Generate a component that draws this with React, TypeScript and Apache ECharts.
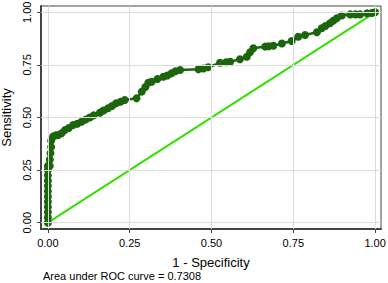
import React, { useEffect, useRef } from "react";
import * as echarts from "echarts";

const tickValues = [0, 0.25, 0.5, 0.75, 1];
const rocX = [
  0, 0, 0, 0, 0, 0, 0, 0, 0, 0, 0, 0,
  0.006, 0.006, 0.008, 0.01, 0.01, 0.016, 0.024, 0.032, 0.042, 0.052, 0.064, 0.077,
  0.09, 0.103, 0.115, 0.128, 0.14, 0.159, 0.17, 0.184, 0.196, 0.208, 0.222, 0.235,
  0.271, 0.287, 0.298, 0.307, 0.317, 0.335, 0.353, 0.365, 0.378, 0.39, 0.404,
  0.46, 0.475, 0.49, 0.526, 0.545, 0.557, 0.587, 0.608, 0.618, 0.628, 0.664, 0.675,
  0.689, 0.715, 0.745, 0.765, 0.786, 0.822, 0.837, 0.848, 0.862, 0.872, 0.883,
  0.898, 0.924, 0.94, 0.954, 0.975, 0.99, 1.0,
];
const rocY = [
  0, 0.025, 0.05, 0.075, 0.1, 0.125, 0.15, 0.175, 0.2, 0.225, 0.25, 0.27,
  0.27, 0.3, 0.33, 0.36, 0.39, 0.41, 0.415, 0.417, 0.425, 0.44, 0.45, 0.464,
  0.47, 0.48, 0.49, 0.5, 0.51, 0.523, 0.533, 0.544, 0.555, 0.567, 0.575, 0.583,
  0.591, 0.623, 0.645, 0.665, 0.67, 0.683, 0.694, 0.7, 0.71, 0.72, 0.726,
  0.729, 0.733, 0.739, 0.76, 0.763, 0.765, 0.777, 0.789, 0.81, 0.829, 0.837, 0.839,
  0.841, 0.852, 0.864, 0.884, 0.892, 0.905, 0.924, 0.935, 0.948, 0.96, 0.972,
  0.985, 0.99, 0.99, 0.99, 0.995, 0.997, 1.0,
];
const refX = [0, 1];
const refY = [0, 1];
const aucText = "Area under ROC curve = 0.7308";

export default function App() {
  const ref = useRef<HTMLDivElement>(null);
  useEffect(() => {
    if (!ref.current) return;
    const chart = echarts.init(ref.current, null, { renderer: "svg" });
    const font = "Liberation Sans, Arial, sans-serif";
    const gridLines = [
      ...tickValues.map((v) => ({ xAxis: v })),
      ...tickValues.map((v) => ({ yAxis: v })),
    ];
    chart.setOption({
      animation: false,
      backgroundColor: "#ffffff",
      grid: {
        left: 41,
        right: 7,
        top: 6,
        bottom: 54,
        containLabel: false,
        outerBoundsMode: "none",
        show: true,
        borderColor: "#444",
        borderWidth: 1,
        backgroundColor: "#ffffff",
      },
      xAxis: {
        type: "value",
        min: -0.021,
        max: 1.018,
        name: "1 - Specificity",
        nameLocation: "middle",
        nameGap: 27,
        nameTextStyle: { fontFamily: font, fontSize: 13, color: "#000" },
        axisLine: { show: true, onZero: false, lineStyle: { color: "#444", width: 2 } },
        axisTick: { show: true, length: 4, customValues: tickValues, lineStyle: { color: "#444" } },
        axisLabel: {
          customValues: tickValues,
          formatter: (v: number) => v.toFixed(2),
          fontFamily: font,
          fontSize: 11,
          color: "#000",
          margin: 8,
        },
        splitLine: { show: false },
      },
      yAxis: {
        type: "value",
        min: -0.03,
        max: 1.03,
        name: "Sensitivity",
        nameLocation: "middle",
        nameGap: 26,
        nameTextStyle: { fontFamily: font, fontSize: 13, color: "#000" },
        axisLine: { show: true, onZero: false, lineStyle: { color: "#444", width: 2 } },
        axisTick: { show: true, length: 4, customValues: tickValues, lineStyle: { color: "#444" } },
        axisLabel: {
          customValues: tickValues,
          formatter: (v: number) => v.toFixed(2),
          fontFamily: font,
          fontSize: 11,
          color: "#000",
          rotate: 90,
          margin: 9,
        },
        splitLine: { show: false },
      },
      graphic: [
        {
          type: "text",
          left: 43,
          top: 270,
          style: { text: aucText, fontFamily: font, fontSize: 11, fill: "#000" },
        },
      ],
      series: [
        {
          type: "line",
          data: [],
          z: 1,
          markLine: {
            silent: true,
            symbol: "none",
            label: { show: false },
            lineStyle: { color: "#dcdcdc", width: 1, type: "solid" },
            data: gridLines,
          },
        },
        {
          type: "line",
          data: refX.map((x, i) => [x, refY[i]]),
          symbol: "none",
          z: 2,
          lineStyle: { color: "#33e000", width: 2 },
        },
        {
          type: "line",
          data: rocX.map((x, i) => [x, rocY[i]]),
          symbol: "circle",
          symbolSize: 8,
          z: 3,
          itemStyle: { color: "#1c650c" },
          lineStyle: { color: "#1c650c", width: 2.5 },
        },
      ],
    });
    return () => chart.dispose();
  }, []);
  return <div ref={ref} style={{ width: 388, height: 283, position: "absolute", left: 0, top: 0 }} />;
}
